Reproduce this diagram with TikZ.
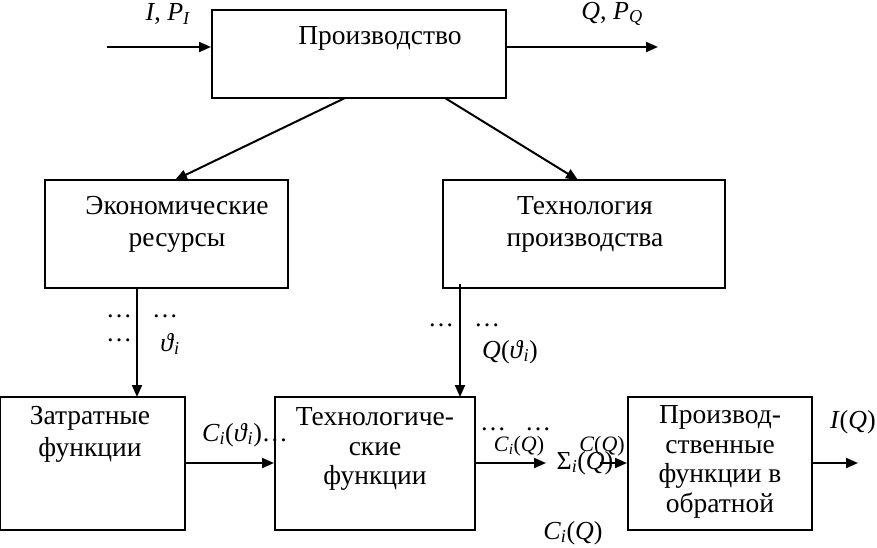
\documentclass[tikz,border=0pt]{standalone}
\usepackage{fontspec}
\setmainfont{Liberation Serif}
\usetikzlibrary{arrows.meta}
\newcommand{\mi}[1]{\textit{#1}}
\begin{document}
\begin{tikzpicture}[x=1pt,y=-1pt,
  blk/.style={draw,line width=2pt,align=center,inner sep=0pt},
  txt/.style={font=\fontsize{27.5}{32}\selectfont,align=center},
  lbl/.style={font=\fontsize{26}{28}\selectfont,inner sep=0pt},
  arr/.style={line width=2pt,-{Triangle[length=12pt,width=10pt]}}]
\useasboundingbox (0,0) rectangle (877,548);
% boxes
\node[blk,minimum width=294pt,minimum height=88pt] (prod) at (359,54) {};
\node[txt] (prodt) at (380,38) {Производство};
\node[blk,minimum width=243pt,minimum height=108pt] (econ) at (166.5,234) {};
\node[txt] (econt) at (177,224) {Экономические\\ресурсы};
\node[blk,minimum width=282pt,minimum height=108pt] (tech) at (584,234) {};
\node[txt] (techt) at (585,224) {Технология\\производства};
\node[blk,minimum width=185pt,minimum height=133pt] (cost) at (92.5,463.5) {};
\node[txt] (costt) at (90,434) {Затратные\\функции};
\node[blk,minimum width=200pt,minimum height=133pt] (tf) at (375,463.5) {};
\node[txt,font=\fontsize{27.5}{29.5}\selectfont] (tft) at (375,449) {Технологиче-\\ские\\функции};
\node[blk,minimum width=184pt,minimum height=133pt] (pf) at (720,463.5) {};
\node[txt,font=\fontsize{27.5}{29.5}\selectfont] (pft) at (720,462) {Производ-\\ственные\\функции в\\обратной};
% coordinates
\coordinate (inS) at (107,47);
\coordinate (outE) at (658,47);
\coordinate (ecTop) at (175,180);
\coordinate (teTop) at (578,180);
\coordinate (a1s) at (137,288);
\coordinate (a1e) at (137,397);
\coordinate (a2s) at (460,284);
\coordinate (a2e) at (460,397);
\coordinate (m2) at (546,463);
\coordinate (outI) at (858,463);
% arrows
\draw[arr] (inS) -- (prod.west |- inS);
\draw[arr] (prod.east |- outE) -- (outE);
\draw[arr] (345,98) -- (ecTop);
\draw[arr] (445,98) -- (teTop);
\draw[arr] (a1s) -- (a1e);
\draw[arr] (a2s) -- (a2e);
\draw[arr] (cost.east |- 0,463) -- (tf.west |- 0,463);
\draw[arr] (tf.east |- 0,463) -- (m2);
\draw[arr] (600,463) -- (pf.west |- 0,463);
\draw[arr] (pf.east |- 0,463) -- (outI);
% labels
\node[lbl] (l1) at (168,14) {\mi{I}, \mi{P}\textsubscript{\mi{I}}};
\node[lbl] (l2) at (612,14) {\mi{Q}, \mi{P}\textsubscript{\mi{Q}}};
\node[lbl] (d1) at (119,316) {\dots};
\node[lbl] (d2) at (119,340) {\dots};
\node[lbl] (d3) at (165,316) {\dots};
\node[lbl] (th) at (170,344) {\mi{ϑ}\textsubscript{\mi{i}}};
\node[lbl] (d4) at (441,325) {\dots};
\node[lbl] (d5) at (487,325) {\dots};
\node[lbl] (qth) at (510,352) {\mi{Q}(\mi{ϑ}\textsubscript{\mi{i}})};
\node[lbl] (cth) at (245,435) {\mi{C}\textsubscript{\mi{i}}(\mi{ϑ}\textsubscript{\mi{i}})\dots};
\node[lbl] (d6) at (493,429) {\dots};
\node[lbl] (d7) at (538,429) {\dots};
\node[lbl,font=\fontsize{22}{24}\selectfont] (ciq) at (519,446) {\mi{C}\textsubscript{\mi{i}}(\mi{Q})};
\node[lbl] (sum) at (585,463) {Σ\textsubscript{\mi{i}}(\mi{Q})};
\node[lbl,font=\fontsize{22}{24}\selectfont] (cq) at (602,446) {\mi{C}(\mi{Q})};
\node[lbl] (ciq2) at (573,533) {\mi{C}\textsubscript{\mi{i}}(\mi{Q})};
\node[lbl,anchor=east] (iq) at (876,422) {\mi{I}(\mi{Q})};
\end{tikzpicture}
\end{document}
